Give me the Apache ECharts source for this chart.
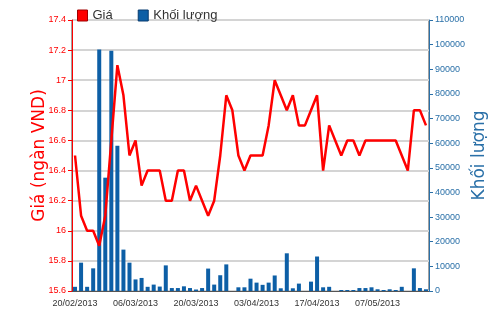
<!DOCTYPE html>
<html>
<head>
<meta charset="utf-8">
<script src="https://cdn.jsdelivr.net/npm/echarts@6/dist/echarts.min.js"></script>
<style>html,body{margin:0;padding:0;background:#fff}#c{width:500px;height:312px}</style>
</head>
<body>
<div id="c"></div>
<script>
const categories = ['20/02/2013','21/02/2013','22/02/2013','25/02/2013','26/02/2013','27/02/2013','28/02/2013','01/03/2013','04/03/2013','05/03/2013',
'06/03/2013','07/03/2013','08/03/2013','11/03/2013','12/03/2013','13/03/2013','14/03/2013','15/03/2013','18/03/2013','19/03/2013',
'20/03/2013','21/03/2013','22/03/2013','25/03/2013','26/03/2013','27/03/2013','28/03/2013','29/03/2013','01/04/2013','02/04/2013',
'03/04/2013','04/04/2013','05/04/2013','08/04/2013','09/04/2013','10/04/2013','11/04/2013','12/04/2013','15/04/2013','16/04/2013',
'17/04/2013','18/04/2013','22/04/2013','23/04/2013','24/04/2013','25/04/2013','26/04/2013','02/05/2013','03/05/2013','06/05/2013',
'07/05/2013','08/05/2013','09/05/2013','10/05/2013','13/05/2013','14/05/2013','15/05/2013','16/05/2013','17/05/2013'];
const price = [16.5,16.1,16.0,16.0,15.9,16.1,16.6,17.1,16.9,16.5,
16.6,16.3,16.4,16.4,16.4,16.2,16.2,16.4,16.4,16.2,
16.3,16.2,16.1,16.2,16.5,16.9,16.8,16.5,16.4,16.5,
16.5,16.5,16.7,17.0,16.9,16.8,16.9,16.7,16.7,16.8,
16.9,16.4,16.7,16.6,16.5,16.6,16.6,16.5,16.6,16.6,
16.6,16.6,16.6,16.6,16.5,16.4,16.8,16.8,16.7];
const volume = [1700,11500,1700,9200,98000,46000,97500,59000,16800,11500,
4700,5300,1700,2600,1800,10400,1200,1200,1900,1200,
600,1200,9100,2600,6400,10800,0,1500,1500,5000,
3400,2500,3400,6300,1100,15300,1100,3000,0,3800,
14000,1500,1700,0,400,400,400,1200,1200,1500,
700,400,700,400,1700,0,9200,1200,700];
const seriesNames = ['Giá','Khối lượng'];

const chart = echarts.init(document.getElementById('c'), null, {renderer:'canvas'});
const RED = '#ff0000', BLUE = '#0d5fa6', BLUE_T = '#2a70a8';
chart.setOption({
  animation:false,
  textStyle:{fontFamily:'Liberation Sans, Arial, sans-serif'},
  legend:{
    left:72, top:4, itemWidth:10, itemHeight:11, itemGap:25, icon:'rect',
    textStyle:{fontSize:13, color:'#333', fontFamily:'Liberation Sans, Arial'},
    data:[{name:seriesNames[0], itemStyle:{color:RED, borderColor:'#a00000', borderWidth:1}},
          {name:seriesNames[1], itemStyle:{color:BLUE, borderColor:'#083c70', borderWidth:1}}]
  },
  grid:{left:72, right:71, top:20, bottom:21, show:true, borderColor:'#444', borderWidth:1, containLabel:false},
  xAxis:{
    type:'category', data:categories, boundaryGap:true,
    axisLine:{lineStyle:{color:'#555', width:1}},
    axisTick:{interval:9, alignWithLabel:true, length:5, lineStyle:{color:'#333'}},
    axisLabel:{interval:9, fontSize:9, color:'#333', margin:8},
    splitLine:{show:false}
  },
  yAxis:[{
    type:'value', min:15.6, max:17.4, interval:0.2, position:'left',
    name:'Giá (ngàn VND)', nameLocation:'middle', nameRotate:90, nameGap:24, nameMoveOverlap:false,
    nameTextStyle:{color:RED, fontSize:17, fontFamily:'DejaVu Sans'},
    axisLine:{show:true, lineStyle:{color:RED, width:1}},
    axisTick:{show:true, length:4, lineStyle:{color:RED}},
    axisLabel:{color:RED, fontSize:9, margin:6, formatter:v=>String(+v.toFixed(1))},
    splitLine:{show:true, lineStyle:{color:'#d4d4d4', width:2}}
  },{
    type:'value', min:0, max:110000, interval:10000, position:'right',
    name:'Khối lượng', nameLocation:'middle', nameRotate:90, nameGap:42, nameMoveOverlap:false,
    nameTextStyle:{color:BLUE_T, fontSize:17, fontFamily:'DejaVu Sans'},
    axisLine:{show:true, lineStyle:{color:BLUE_T, width:1}},
    axisTick:{show:true, length:4, lineStyle:{color:BLUE_T}},
    axisLabel:{color:BLUE_T, fontSize:9, margin:6, formatter:v=>String(v)},
    splitLine:{show:false}
  }],
  series:[{
    name:seriesNames[1], type:'bar', yAxisIndex:1, data:volume, barWidth:4,
    itemStyle:{color:BLUE}, z:2
  },{
    name:seriesNames[0], type:'line', yAxisIndex:0, data:price, symbol:'none',
    lineStyle:{color:RED, width:2.5}, itemStyle:{color:RED}, z:3
  }]
});
</script>
</body>
</html>
